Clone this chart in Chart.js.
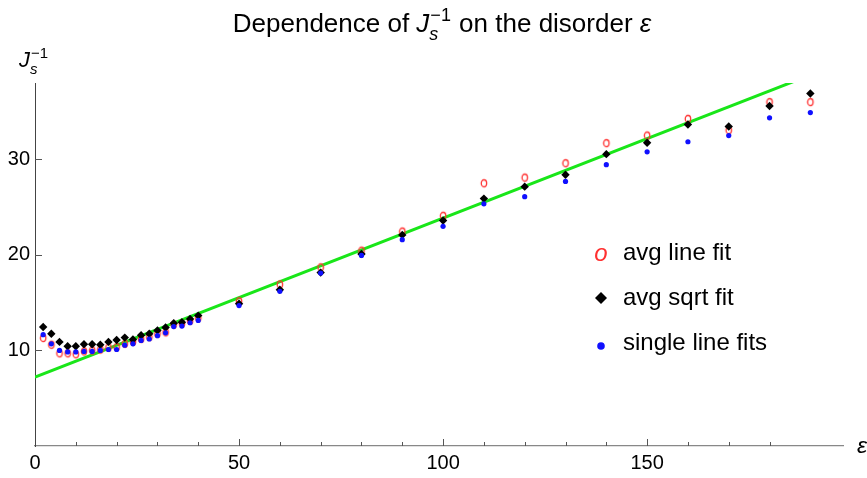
<!DOCTYPE html>
<html>
<head>
<meta charset="utf-8">
<script src="https://cdn.jsdelivr.net/npm/chart.js@4.4.0/dist/chart.umd.min.js"></script>
<style>
  html, body { margin: 0; padding: 0; background: #fff; }
</style>
</head>
<body>
<canvas id="chart-canvas" width="867" height="478"></canvas>
<script>
// disorder values: steps of 2 up to 40, then steps of 10
let epsValues = [2, 4, 6, 8, 10, 12, 14, 16, 18, 20, 22, 24, 26, 28, 30, 32, 34, 36, 38, 40,
  50, 60, 70, 80, 90, 100, 110, 120, 130, 140, 150, 160, 170, 180, 190];

let avgLineFit = [11.3, 10.6, 9.7, 9.7, 9.6, 9.9, 10.0, 10.1, 10.3, 10.35, 10.7, 10.9, 11.2, 11.4, 11.75, 11.9, 12.7, 12.8, 13.1, 13.4,
  15.15, 16.9, 18.7, 20.45, 22.45, 24.1, 27.5, 28.1, 29.6, 31.7, 32.5, 34.25, 33.05, 36.0, 36.0];

let avgSqrtFit = [12.45, 11.75, 10.9, 10.45, 10.45, 10.65, 10.65, 10.6, 10.9, 11.1, 11.35, 11.15, 11.6, 11.75, 12.1, 12.4, 12.85, 12.95, 13.3, 13.65,
  14.9, 16.35, 18.15, 20.1, 22.1, 23.6, 25.9, 27.15, 28.4, 30.55, 31.75, 33.65, 33.45, 35.6, 36.9];

let singleLineFits = [11.65, 10.7, 10.0, 9.85, 9.85, 9.9, 9.9, 10.0, 10.1, 10.1, 10.55, 10.7, 11.05, 11.2, 11.55, 11.85, 12.5, 12.55, 12.9, 13.15,
  14.7, 16.2, 18.1, 19.95, 21.6, 23.0, 25.35, 26.1, 27.7, 29.45, 30.8, 31.85, 32.5, 34.35, 34.9];

// straight line fit, runs off the top of the plot
let fitEps = [0, 198];
let fitValues = [7.2, 40.17];

let xTicks = [0, 50, 100, 150];
let yTicks = [10, 20, 30];

let legendLabels = ["avg line fit", "avg sqrt fit", "single line fits"];

let RED = "#ff3030";
let BLUE = "#1010ff";
let GREEN = "#19e619";
let FONT = "'Liberation Sans', Arial, sans-serif";

function ringMarker(color) {
  let c = document.createElement("canvas");
  c.width = 10;
  c.height = 12;
  let g = c.getContext("2d");
  g.strokeStyle = color;
  g.lineWidth = 1.3;
  g.beginPath();
  g.ellipse(5, 6, 2.7, 3.5, 0, 0, Math.PI * 2);
  g.stroke();
  return c;
}

function points(values) {
  return epsValues.map(function (e, i) {
    return { x: e, y: values[i] };
  });
}

// draws a run of text pieces, a piece with sup/sub gets a stacked script
function richText(ctx, parts, x, y) {
  let cx = x;
  parts.forEach(function (p) {
    if (p.sup) {
      ctx.font = p.font;
      let w1 = ctx.measureText(p.sup).width;
      let w2 = ctx.measureText(p.sub).width;
      ctx.fillText(p.sup, cx + 1, y - p.up);
      ctx.font = p.subFont;
      ctx.fillText(p.sub, cx, y + p.down);
      cx += Math.max(w1, w2) + 2;
    } else {
      ctx.font = p.font;
      ctx.fillText(p.text, cx, y);
      cx += ctx.measureText(p.text).width;
    }
  });
  return cx - x;
}

function measureRich(ctx, parts) {
  ctx.save();
  let w = richText(ctx, parts, -9999, -9999);
  ctx.restore();
  return w;
}

let jPart = function (size) {
  let s = Math.round(size * 0.68);
  return [
    { text: "J", font: "italic " + size + "px " + FONT },
    { sup: "\u22121", sub: "s", font: s + "px " + FONT, subFont: "italic " + s + "px " + FONT, up: size * 0.42, down: size * 0.3 }
  ];
};

let decorations = {
  id: "decorations",
  afterDraw: function (chart) {
    let ctx = chart.ctx;
    let xs = chart.scales.x;
    let ys = chart.scales.y;
    let area = chart.chartArea;

    ctx.save();
    // tick marks point into the plot
    ctx.strokeStyle = "#555";
    ctx.lineWidth = 1;
    xs.ticks.forEach(function (t) {
      if (t.value % 10 !== 0 || t.value === 0) return;
      let px = Math.round(xs.getPixelForValue(t.value)) + 0.5;
      let len = t.value % 50 === 0 ? 7 : 4;
      ctx.beginPath();
      ctx.moveTo(px, area.bottom);
      ctx.lineTo(px, area.bottom - len);
      ctx.stroke();
    });
    ys.ticks.forEach(function (t) {
      if (yTicks.indexOf(t.value) < 0) return;
      let py = Math.round(ys.getPixelForValue(t.value)) + 0.5;
      ctx.beginPath();
      ctx.moveTo(area.left, py);
      ctx.lineTo(area.left + 7, py);
      ctx.stroke();
    });

    ctx.fillStyle = "#000";
    ctx.textBaseline = "alphabetic";
    ctx.textAlign = "left";

    // title
    let titleParts = [{ text: "Dependence of ", font: "26px " + FONT }]
      .concat(jPart(26))
      .concat([{ text: " on the disorder ", font: "26px " + FONT }, { text: "\u03b5", font: "italic 26px " + FONT }]);
    let tw = measureRich(ctx, titleParts);
    richText(ctx, titleParts, 442 - tw / 2, 32);

    // axis labels
    richText(ctx, jPart(22), 19, 67);
    ctx.font = "italic 23px " + FONT;
    ctx.fillText("\u03b5", 857, 453);

    // legend
    let rows = [253, 298, 343];
    let mx = 601;
    ctx.fillStyle = RED;
    ctx.font = "italic 24px " + FONT;
    ctx.textAlign = "center";
    ctx.textBaseline = "middle";
    ctx.fillText("o", mx, rows[0] + 1);

    ctx.fillStyle = "#000";
    ctx.beginPath();
    ctx.moveTo(mx, rows[1] - 6);
    ctx.lineTo(mx + 6, rows[1]);
    ctx.lineTo(mx, rows[1] + 6);
    ctx.lineTo(mx - 6, rows[1]);
    ctx.closePath();
    ctx.fill();

    ctx.fillStyle = BLUE;
    ctx.beginPath();
    ctx.arc(mx, rows[2] + 3, 3.8, 0, Math.PI * 2);
    ctx.fill();

    ctx.fillStyle = "#000";
    ctx.textAlign = "left";
    ctx.font = "24px " + FONT;
    legendLabels.forEach(function (label, i) {
      ctx.fillText(label, 623, rows[i]);
    });
    ctx.restore();
  }
};

let chart = document.getElementById("chart-canvas").getContext("2d");

let chart1 = new Chart(chart, {
  type: "scatter",
  data: {
    datasets: [
      {
        label: legendLabels[2],
        data: points(singleLineFits),
        pointStyle: "circle",
        pointRadius: 2.6,
        backgroundColor: BLUE,
        borderWidth: 0,
      },
      {
        label: legendLabels[1],
        data: points(avgSqrtFit),
        pointStyle: "rectRot",
        pointRadius: 4.2,
        backgroundColor: "#000",
        borderWidth: 0,
      },
      {
        label: legendLabels[0],
        data: points(avgLineFit),
        pointStyle: ringMarker(RED),
        pointRadius: 4,
      },
      {
        type: "line",
        label: "fit",
        data: fitEps.map(function (e, i) { return { x: e, y: fitValues[i] }; }),
        borderColor: GREEN,
        borderWidth: 3,
        pointRadius: 0,
        fill: false,
        clip: 0,
      },
    ],
  },
  options: {
    responsive: false,
    animation: false,
    devicePixelRatio: 1,
    events: [],
    layout: { padding: { top: 83, right: 24, left: 0, bottom: 0 } },
    plugins: {
      legend: { display: false },
      tooltip: { enabled: false },
      title: { display: false },
    },
    scales: {
      x: {
        type: "linear",
        min: 0,
        max: 198,
        grid: { display: false, drawTicks: false },
        border: { display: true, color: "#888", width: 1.2 },
        afterFit: function (scale) { scale.height = 32; },
        ticks: {
          stepSize: 10,
          autoSkip: false,
          maxRotation: 0,
          padding: 5,
          color: "#000",
          font: { family: FONT, size: 20 },
          callback: function (v) { return xTicks.indexOf(v) >= 0 ? String(v) : ""; },
        },
      },
      y: {
        type: "linear",
        min: 0,
        max: 38,
        grid: { display: false, drawTicks: false },
        border: { display: true, color: "#444", width: 1 },
        afterFit: function (scale) { scale.width = 35; },
        ticks: {
          stepSize: 10,
          autoSkip: false,
          padding: 5,
          color: "#000",
          font: { family: FONT, size: 20 },
          callback: function (v) { return yTicks.indexOf(v) >= 0 ? String(v) : ""; },
        },
      },
    },
  },
  plugins: [decorations],
});
</script>
</body>
</html>
